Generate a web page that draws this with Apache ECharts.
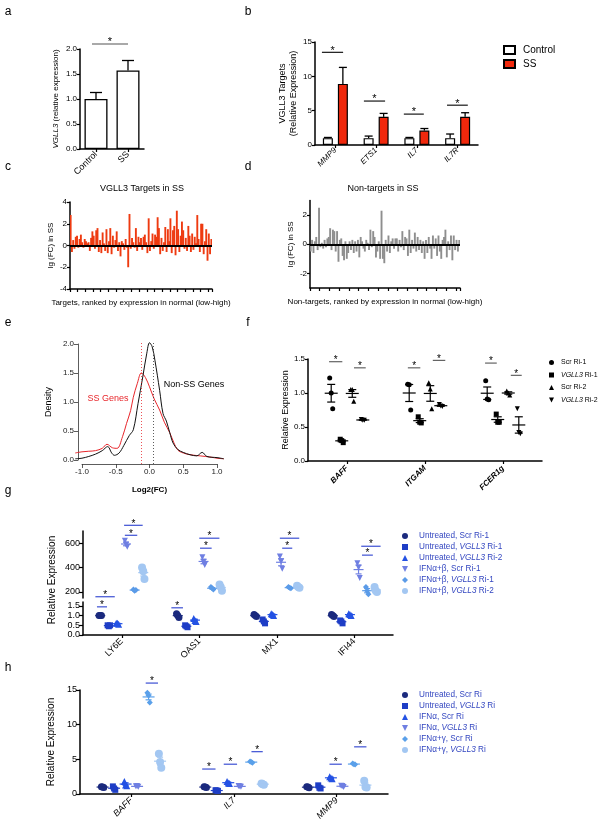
<!DOCTYPE html>
<html><head><meta charset="utf-8">
<script src="https://cdn.jsdelivr.net/npm/echarts@6/dist/echarts.min.js"></script>
<style>html,body{margin:0;padding:0;background:#fff}#c{width:602px;height:829px}</style>
</head><body><div id="c"></div>
<script>
// ---------------- DATA ----------------
// a
const aCategories = ['Control', 'SS'];
const aMeans = [1.0, 1.57];
const aErrors = [0.13, 0.2];
const aSig = [[0, -0.125, 1.0, 2.1]];
// b
const bCategories = ['MMP9', 'ETS1', 'IL7', 'IL7R'];
const bControl = [1.0, 1.0, 1.0, 1.0];
const bControlErr = [0.1, 0.3, 0.1, 0.6];
const bSS = [8.9, 4.1, 2.1, 4.1];
const bSSErr = [2.4, 0.5, 0.3, 0.6];
const bSig = [[0, -0.33, 0.19, 13.5], [1, -0.3, 0.22, 6.4], [2, -0.32, 0.17, 4.5], [3, -0.26, 0.25, 5.8]];
// c
const cValues = [2.8, -0.6, 0.5, -0.3, 0.8, 0.9, -0.2, 0.6, 1.0, 0.3, -0.2, 0.6, 0.4, 0.2, 0.3, -0.5, 0.7, 1.3, 0.9, -0.3,
  1.4, 1.6, -0.6, 0.5, -0.7, 1.2, 0.2, -0.5, 1.5, -0.7, 0.4, 1.6, -0.8, 0.9, -0.2, 0.5, 1.3, -0.5, 0.3, -1.0,
  0.4, 0.2, -0.4, 0.6, -0.2, -2.0, 2.9, -0.3, 0.7, 0.3, -0.2, 1.6, -0.5, 0.8, 0.3, 0.7, -0.4, 0.8, 1.0, 0.3,
  -0.7, 2.5, -0.5, 0.4, 1.1, -0.3, 1.0, 0.8, 2.6, 1.6, -0.8, 0.7, -0.5, 0.3, 1.7, -0.6, 1.5, 0.4, 2.5, -0.7,
  1.4, 1.8, -0.9, 3.2, 1.5, -0.6, 0.9, 2.2, 1.4, -0.3, 0.7, -0.5, 1.8, 0.9, -0.6, 1.1, -0.4, 0.8, 0.2, 2.8,
  0.6, -0.6, 2.0, 2.0, -0.8, 0.4, 1.5, -1.4, 1.1, -0.8, 0.6];
// d
const dValues = [-0.5, 0.3, -0.6, 0.2, 0.5, -0.4, 2.5, -0.2, 0.1, -0.3, 0.3, -0.2, 0.4, 0.5, 1.1, -0.4, 1.0, 0.9, -0.5, 0.9,
  -1.2, 0.3, 0.4, -0.8, -1.1, 0.2, -1.0, -0.6, 0.2, -0.4, 0.3, -0.6, 0.2, -0.5, 0.3, -0.9, 0.5, 0.2, -0.3, -0.5,
  0.3, 0.1, -0.4, 1.0, -0.2, 0.9, 0.5, -0.9, -0.5, 0.2, -1.0, 2.3, -1.0, -1.3, 0.3, -0.5, 0.6, -0.6, 0.2, 0.4,
  -0.3, 0.4, 0.4, -0.5, 0.3, -0.2, 0.9, -0.4, 0.5, 0.4, -0.8, 1.0, -0.6, 0.3, -0.3, 0.8, -0.5, 0.5, -0.4, 0.3,
  -0.6, 0.2, -1.0, 0.3, -0.6, 0.5, -0.3, -1.0, 0.6, -0.3, 0.4, -0.8, 0.6, -0.5, -1.0, 0.3, 0.5, 1.0, -0.9, 0.2,
  -0.4, 0.6, -1.1, 0.6, -0.4, 0.3, -0.5, 0.3];
// e
const eSSx = [-1.1, -1.0, -0.9, -0.8, -0.7, -0.63, -0.55, -0.48, -0.4, -0.34, -0.28, -0.24, -0.18, -0.12, -0.06, 0.0, 0.07, 0.15, 0.22, 0.3, 0.36, 0.42, 0.5, 0.6, 0.75, 0.9, 1.0, 1.1];
const eSSy = [0.12, 0.14, 0.15, 0.16, 0.2, 0.27, 0.21, 0.2, 0.4, 0.63, 0.85, 1.08, 1.32, 1.5, 1.42, 1.26, 1.05, 0.86, 0.65, 0.47, 0.3, 0.17, 0.12, 0.09, 0.07, 0.05, 0.03, 0.02];
const eNonx = [-1.1, -1.0, -0.9, -0.8, -0.7, -0.62, -0.56, -0.52, -0.45, -0.38, -0.3, -0.24, -0.17, -0.1, -0.04, 0.0, 0.04, 0.08, 0.15, 0.2, 0.25, 0.3, 0.35, 0.42, 0.5, 0.6, 0.7, 0.78, 0.85, 1.0, 1.1];
const eNony = [0.02, 0.03, 0.06, 0.1, 0.16, 0.23, 0.12, 0.08, 0.12, 0.25, 0.42, 0.52, 0.97, 1.43, 1.84, 2.02, 1.95, 1.72, 1.2, 0.8, 0.67, 0.47, 0.29, 0.18, 0.13, 0.09, 0.07, 0.13, 0.06, 0.04, 0.02];
const eMedianSS = -0.12;
const eMedianNon = 0.06;
// f
const fCategories = ['BAFF', 'ITGAM', 'FCER1g'];
const fScrRi1 = [[1.22, 1.0, 0.77], [1.13, 1.12, 0.75], [1.18, 0.91, 0.9]];
const fVgllRi1 = [[0.32, 0.3, 0.27], [0.65, 0.57, 0.56], [0.69, 0.57, 0.57]];
const fScrRi2 = [[1.05, 1.05, 0.88], [1.15, 1.06, 0.77], [1.03, 1.0, 0.97]];
const fVgllRi2 = [[0.61, 0.6, 0.6], [0.83, 0.81, 0.8], [0.77, 0.42, 0.4]];
const fSig = [[0, -0.23, -0.06, 1.46], [0, 0.09, 0.24, 1.37], [1, -0.22, -0.06, 1.37], [1, 0.1, 0.26, 1.48], [2, -0.23, -0.08, 1.44], [2, 0.1, 0.24, 1.26]];
// g
const gCategories = ['LY6E', 'OAS1', 'MX1', 'IFI44'];
const gUntScr1 = [[1.0, 1.0, 1.0], [1.1, 1.0, 0.9], [1.05, 1.0, 0.95], [1.05, 1.0, 0.95]];
const gUntV1 = [[0.5, 0.45, 0.5], [0.5, 0.45, 0.4], [0.8, 0.7, 0.6], [0.75, 0.7, 0.6]];
const gUntV2 = [[0.6, 0.6, 0.55], [0.85, 0.75, 0.7], [1.1, 1.05, 1.0], [1.1, 1.05, 1.0]];
const gIfnScr1 = [[620, 590, 570], [485, 445, 420], [490, 450, 390], [435, 400, 315]];
const gIfnV1 = [[220, 210, 215], [240, 230, 220], [240, 235, 230], [240, 210, 180]];
const gIfnV2 = [[400, 370, 305], [260, 240, 210], [250, 240, 235], [240, 210, 200]];
const gSigLower = [[0, -0.34, -0.09, 1.97], [0, -0.32, -0.19, 1.45], [1, -0.36, -0.21, 1.4]];
const gSigUpper = [[0, 0.03, 0.27, 747], [0, 0.04, 0.2, 665], [1, 0.0, 0.26, 641], [1, 0.01, 0.16, 559], [2, 0.04, 0.29, 641], [2, 0.07, 0.2, 559], [3, 0.09, 0.34, 575], [3, 0.1, 0.24, 502]];
const gUpperTicks = [200, 400, 600];
const gLowerTicks = [0, 0.5, 1.0, 1.5];
// h
const hCategories = ['BAFF', 'IL7', 'MMP9'];
const hUntScr = [[1.05, 1.0, 0.95], [1.05, 1.0, 0.95], [1.05, 1.0, 0.9]];
const hUntV = [[1.1, 0.8, 0.6], [0.55, 0.5, 0.45], [1.25, 0.9, 0.8]];
const hIfnScr = [[1.8, 1.3, 1.2], [1.8, 1.6, 1.5], [2.5, 2.3, 2.2]];
const hIfnV = [[1.1, 1.15, 1.05], [1.15, 1.1, 1.05], [1.2, 1.15, 1.0]];
const hIgScr = [[14.6, 14.2, 13.2], [4.7, 4.6, 4.5], [4.4, 4.3, 4.25]];
const hIgV = [[5.8, 4.6, 3.8], [1.5, 1.4, 1.35], [1.9, 1.0, 0.95]];
const hSig = [[0, 0.14, 0.26, 16.0], [1, -0.31, -0.18, 3.6], [1, -0.1, 0.03, 4.3], [1, 0.17, 0.28, 6.1], [2, -0.07, 0.05, 4.3], [2, 0.17, 0.29, 6.8]];

// ---------------- HELPERS ----------------
const FONT = "'Liberation Sans', Arial, Helvetica, sans-serif";
function isObj(o) { return o && typeof o === 'object' && !Array.isArray(o); }
function merge(a, b) {
  const out = Object.assign({}, a);
  for (const k in b) out[k] = (isObj(a[k]) && isObj(b[k])) ? merge(a[k], b[k]) : b[k];
  return out;
}
const AX = {
  axisLine: { show: true, onZero: false, lineStyle: { color: '#000', width: 1.5 } },
  axisTick: { show: true, length: 3, lineStyle: { color: '#000', width: 1.2 } },
  axisLabel: { fontSize: 8, color: '#000', fontFamily: FONT, margin: 3 },
  splitLine: { show: false },
  nameTextStyle: { fontSize: 9, color: '#000', fontFamily: FONT }
};
function ax(o) { return merge(AX, o); }
const HID = { show: false, splitLine: { show: false } };

function stats(r) {
  const m = r.reduce((s, v) => s + v, 0) / r.length;
  const sd = Math.sqrt(r.reduce((s, v) => s + (v - m) * (v - m), 0) / (r.length - 1));
  return [m, sd / Math.sqrt(r.length)];
}
function dotData(reps) { return reps.map((r, i) => { const s = stats(r); return [i, s[0], s[1], r[0], r[1], r[2]]; }); }

function shapeEl(shape, cx, cy, s, color) {
  const h = s / 2;
  const st = { fill: color };
  if (shape === 'circle') return { type: 'circle', shape: { cx, cy, r: h }, style: st };
  if (shape === 'rect') return { type: 'rect', shape: { x: cx - h, y: cy - h, width: s, height: s }, style: st };
  if (shape === 'triangle') return { type: 'polygon', shape: { points: [[cx, cy - h], [cx + h, cy + h], [cx - h, cy + h]] }, style: st };
  if (shape === 'down') return { type: 'polygon', shape: { points: [[cx - h, cy - h], [cx + h, cy - h], [cx, cy + h]] }, style: st };
  return { type: 'polygon', shape: { points: [[cx, cy - h], [cx + h, cy], [cx, cy + h], [cx - h, cy]] }, style: st };
}
function dotRender(slotCount, slotIdx, frac, shape, size, color, lineColor, meanHalf, capHalf, jitter) {
  return function (params, api) {
    const cat = api.value(0), mean = api.value(1), sem = api.value(2);
    const band = api.size([1, 0])[0];
    const c = api.coord([cat, mean]);
    const x = c[0] + (slotIdx - (slotCount - 1) / 2) * frac * band;
    const top = api.coord([cat, mean + sem])[1];
    const bot = api.coord([cat, mean - sem])[1];
    const ch = [];
    for (let k = 0; k < 3; k++) {
      const p = api.coord([cat, api.value(3 + k)]);
      ch.push(shapeEl(shape, x + (k - 1) * jitter, p[1], size, color));
    }
    const ls = { stroke: lineColor, lineWidth: 1.2 };
    ch.push({ type: 'line', shape: { x1: x - meanHalf, y1: c[1], x2: x + meanHalf, y2: c[1] }, style: ls });
    ch.push({ type: 'line', shape: { x1: x, y1: top, x2: x, y2: bot }, style: ls });
    ch.push({ type: 'line', shape: { x1: x - capHalf, y1: top, x2: x + capHalf, y2: top }, style: ls });
    ch.push({ type: 'line', shape: { x1: x - capHalf, y1: bot, x2: x + capHalf, y2: bot }, style: ls });
    return { type: 'group', children: ch };
  };
}
function errRender(frac, capHalf) {
  return function (params, api) {
    const cat = api.value(0), m = api.value(1), e = api.value(2);
    const band = api.size([1, 0])[0];
    const p0 = api.coord([cat, m]), p1 = api.coord([cat, m + e]);
    const x = p0[0] + frac * band;
    const st = { stroke: '#000', lineWidth: 1.3 };
    return { type: 'group', children: [
      { type: 'line', shape: { x1: x, y1: p0[1], x2: x, y2: p1[1] }, style: st },
      { type: 'line', shape: { x1: x - capHalf, y1: p1[1], x2: x + capHalf, y2: p1[1] }, style: st }] };
  };
}
function sigRender(lineColor, starSize) {
  return function (params, api) {
    const cat = api.value(0), f1 = api.value(1), f2 = api.value(2), y = api.value(3);
    const band = api.size([1, 0])[0];
    const p = api.coord([cat, y]);
    const x1 = p[0] + f1 * band, x2 = p[0] + f2 * band;
    return { type: 'group', children: [
      { type: 'line', shape: { x1, y1: p[1], x2, y2: p[1] }, style: { stroke: lineColor, lineWidth: 1.1 } },
      { type: 'text', style: { text: '*', x: (x1 + x2) / 2, y: p[1] + starSize * 0.35, align: 'center', verticalAlign: 'bottom', fill: '#000', font: starSize + 'px ' + FONT } }] };
  };
}
function txt(s, x, y, size, extra) {
  extra = extra || {};
  return { type: 'text', x, y, silent: true, rotation: extra.rotation || 0,
    style: { text: s, fill: extra.color || '#000', font: (extra.fontStyle || '') + ' ' + (extra.weight || '') + ' ' + size + 'px ' + FONT,
      align: extra.align || 'center', verticalAlign: 'middle', textAlign: extra.align || 'center', textVerticalAlign: 'middle' } };
}
const DOWN = 'path://M0,0L10,0L5,10Z';
const legendItalic = (size, color, pad) => ({
  formatter: (n) => n.replace(/VGLL3/g, '{i|VGLL3}'),
  textStyle: { fontSize: size, color: color, fontFamily: FONT, overflow: 'none', width: 200, padding: [0, 0, 0, pad],
    rich: { i: { fontStyle: 'italic', fontSize: size, color: color, fontFamily: FONT } } }
});

// ---------------- OPTION ----------------
const grids = [
  { left: 80, top: 49, width: 64, height: 100 },
  { left: 315, top: 42, width: 163, height: 103 },
  { left: 70, top: 202, width: 142, height: 87 },
  { left: 310, top: 200.5, width: 150, height: 87.5 },
  { left: 75.25, top: 341, width: 148.5, height: 123 },
  { left: 82, top: 463, width: 135, height: 1 },
  { left: 78, top: 344, width: 1, height: 116 },
  { left: 308, top: 359, width: 234, height: 102 },
  { left: 83, top: 531, width: 310, height: 67 },
  { left: 83, top: 602, width: 310, height: 33 },
  { left: 80, top: 690, width: 308, height: 104 }
].map(g => Object.assign({ outerBoundsMode: 'none', containLabel: false }, g));

const EAX = { axisLine: { lineStyle: { color: '#333', width: 0.8 } }, axisTick: { length: 4, lineStyle: { color: '#333', width: 0.8 } }, axisLabel: { color: '#222', margin: 4 } };

const xAxis = [
  ax({ gridIndex: 0, type: 'category', data: aCategories, axisLabel: { rotate: 45, fontSize: 9, margin: 4 }, axisTick: { alignWithLabel: true } }),
  ax({ gridIndex: 1, type: 'category', data: bCategories, axisLabel: { rotate: 45, fontStyle: 'italic', fontSize: 8, margin: 4 }, axisTick: { alignWithLabel: true } }),
  ax({ gridIndex: 2, type: 'category', data: cValues.map((_, i) => String(i + 1)), axisLabel: { show: false }, axisTick: { interval: 5, length: 3 },
    name: 'Targets, ranked by expression in normal (low-high)', nameLocation: 'middle', nameGap: 10, nameTextStyle: { fontSize: 8 } }),
  ax({ gridIndex: 3, type: 'category', data: dValues.map((_, i) => String(i + 1)), axisLabel: { show: false }, axisTick: { interval: 6, length: 3 },
    name: 'Non-targets, ranked by expression in normal (low-high)', nameLocation: 'middle', nameGap: 10, nameTextStyle: { fontSize: 8 } }),
  Object.assign({ gridIndex: 4, type: 'value', min: -1.1, max: 1.1 }, HID),
  ax(merge(EAX, { gridIndex: 5, type: 'value', min: -1, max: 1, interval: 0.5, axisLabel: { formatter: v => v.toFixed(1) },
    name: 'Log2(FC)', nameLocation: 'middle', nameGap: 22, nameTextStyle: { fontSize: 8, fontWeight: 'bold' } })),
  Object.assign({ gridIndex: 6, type: 'value', min: 0, max: 1 }, HID),
  ax({ gridIndex: 7, type: 'category', data: fCategories, axisLabel: { rotate: 45, fontStyle: 'italic', fontWeight: 'bold', fontSize: 8, margin: 6 }, axisTick: { alignWithLabel: true } }),
  Object.assign({ gridIndex: 8, type: 'category', data: gCategories }, HID),
  ax({ gridIndex: 9, type: 'category', data: gCategories, axisLabel: { rotate: 45, fontSize: 9, margin: 5 }, axisTick: { alignWithLabel: true } }),
  ax({ gridIndex: 10, type: 'category', data: hCategories, axisLabel: { rotate: 45, fontStyle: 'italic', fontSize: 9, margin: 5 }, axisTick: { alignWithLabel: true } })
];
const yAxis = [
  ax({ gridIndex: 0, type: 'value', min: 0, max: 2, interval: 0.5, axisLabel: { formatter: v => v.toFixed(1) },
    name: '{i|VGLL3} (relative expression)', nameLocation: 'middle', nameGap: 20,
    nameTextStyle: { fontSize: 8, rich: { i: { fontStyle: 'italic', fontSize: 8, color: '#000', fontFamily: FONT } } } }),
  ax({ gridIndex: 1, type: 'value', min: 0, max: 15, interval: 5,
    name: 'VGLL3 Targets\n(Relative Expression)', nameLocation: 'middle', nameGap: 14, nameTextStyle: { fontSize: 9, lineHeight: 11 } }),
  ax({ gridIndex: 2, type: 'value', min: -4, max: 4, interval: 2, name: 'lg (FC) in SS', nameLocation: 'middle', nameGap: 15, nameTextStyle: { fontSize: 8 } }),
  ax({ gridIndex: 3, type: 'value', min: -3, max: 3, axisTick: { customValues: [-2, 0, 2] }, axisLabel: { customValues: [-2, 0, 2] },
    name: 'lg (FC) in SS', nameLocation: 'middle', nameGap: 15, nameTextStyle: { fontSize: 8 } }),
  Object.assign({ gridIndex: 4, type: 'value', min: -0.07, max: 2.05 }, HID),
  Object.assign({ gridIndex: 5, type: 'value', min: 0, max: 1 }, HID),
  ax(merge(EAX, { gridIndex: 6, type: 'value', min: 0, max: 2, interval: 0.5, axisLabel: { formatter: v => v.toFixed(1) },
    name: 'Density', nameLocation: 'middle', nameGap: 25, nameTextStyle: { fontSize: 9 } })),
  ax({ gridIndex: 7, type: 'value', min: 0, max: 1.5, interval: 0.5, axisLabel: { formatter: v => v.toFixed(1) },
    name: 'Relative Expression', nameLocation: 'middle', nameGap: 17, nameTextStyle: { fontSize: 9 } }),
  ax({ gridIndex: 8, type: 'value', min: 150, max: 700, axisTick: { customValues: gUpperTicks, length: 4 }, axisLabel: { customValues: gUpperTicks, fontSize: 9 } }),
  ax({ gridIndex: 9, type: 'value', min: 0, max: 1.7, axisTick: { customValues: gLowerTicks, length: 4 }, axisLabel: { customValues: gLowerTicks, fontSize: 9, formatter: v => v.toFixed(1) } }),
  ax({ gridIndex: 10, type: 'value', min: 0, max: 15, interval: 5, axisTick: { length: 4 }, axisLabel: { fontSize: 9 },
    name: 'Relative Expression', nameLocation: 'middle', nameGap: 22, nameTextStyle: { fontSize: 10 } })
];

const series = [];
// a
series.push({ type: 'bar', name: 'a', xAxisIndex: 0, yAxisIndex: 0, data: aMeans, barWidth: 23, itemStyle: { color: '#fff', borderColor: '#000', borderWidth: 1.3 }, z: 2 });
series.push({ type: 'custom', name: 'aErr', xAxisIndex: 0, yAxisIndex: 0, data: aMeans.map((m, i) => [i, m, aErrors[i]]), renderItem: errRender(0, 6), z: 1 });
series.push({ type: 'custom', name: 'aSig', xAxisIndex: 0, yAxisIndex: 0, data: aSig, renderItem: sigRender('#555', 11), encode: { x: 0, y: 3 } });
// b
series.push({ type: 'bar', name: 'Control', xAxisIndex: 1, yAxisIndex: 1, data: bControl, barWidth: 10, barGap: '50%', itemStyle: { color: '#fff', borderColor: '#000', borderWidth: 1.2 }, z: 2 });
series.push({ type: 'bar', name: 'SS', xAxisIndex: 1, yAxisIndex: 1, data: bSS, barWidth: 10, barGap: '50%', itemStyle: { color: '#f0280c', borderColor: '#000', borderWidth: 1.2 }, z: 2 });
series.push({ type: 'custom', name: 'bErrC', xAxisIndex: 1, yAxisIndex: 1, data: bControl.map((m, i) => [i, m, bControlErr[i]]), renderItem: errRender(-0.184, 4), z: 1 });
series.push({ type: 'custom', name: 'bErrS', xAxisIndex: 1, yAxisIndex: 1, data: bSS.map((m, i) => [i, m, bSSErr[i]]), renderItem: errRender(0.184, 4), z: 1 });
series.push({ type: 'custom', name: 'bSig', xAxisIndex: 1, yAxisIndex: 1, data: bSig, renderItem: sigRender('#000', 11), encode: { x: 0, y: 3 } });
// c, d
const zeroLine = { symbol: 'none', silent: true, label: { show: false }, lineStyle: { color: '#000', width: 1.8, type: 'solid' }, data: [{ yAxis: 0 }] };
series.push({ type: 'bar', name: 'c', xAxisIndex: 2, yAxisIndex: 2, data: cValues, barWidth: 1.9, itemStyle: { color: '#ee3a10', borderWidth: 0 }, markLine: zeroLine });
series.push({ type: 'bar', name: 'd', xAxisIndex: 3, yAxisIndex: 3, data: dValues, barWidth: 1.9, itemStyle: { color: '#8e8e8e', borderWidth: 0 }, markLine: zeroLine });
// e
series.push({ type: 'line', name: 'SS Genes', xAxisIndex: 4, yAxisIndex: 4, data: eSSx.map((x, i) => [x, eSSy[i]]), smooth: 0.35, showSymbol: false,
  lineStyle: { color: '#e8262b', width: 1 }, markLine: { symbol: 'none', silent: true, label: { show: false }, lineStyle: { color: '#e8262b', width: 0.8, type: [1, 2] }, data: [{ xAxis: eMedianSS }] } });
series.push({ type: 'line', name: 'Non-SS Genes', xAxisIndex: 4, yAxisIndex: 4, data: eNonx.map((x, i) => [x, eNony[i]]), smooth: 0.35, showSymbol: false,
  lineStyle: { color: '#111', width: 1 }, markLine: { symbol: 'none', silent: true, label: { show: false }, lineStyle: { color: '#333', width: 0.8, type: [1, 2] }, data: [{ xAxis: eMedianNon }] } });
// f
const fSpecs = [['Scr Ri-1', fScrRi1, 'circle', 'circle'], ['VGLL3 Ri-1', fVgllRi1, 'rect', 'rect'], ['Scr Ri-2', fScrRi2, 'triangle', 'triangle'], ['VGLL3 Ri-2', fVgllRi2, 'down', DOWN]];
fSpecs.forEach((s, i) => series.push({ type: 'custom', name: s[0], xAxisIndex: 7, yAxisIndex: 7, data: dotData(s[1]), itemStyle: { color: '#000' },
  renderItem: dotRender(4, i, 0.135, s[2], 5, '#000', '#000', 6.5, 4, 1.5), encode: { x: 0, y: 1 } }));
series.push({ type: 'custom', name: 'fSig', xAxisIndex: 7, yAxisIndex: 7, data: fSig, renderItem: sigRender('#555', 10), encode: { x: 0, y: 3 } });
// g
const gSpecs = [
  ['Untreated, Scr Ri-1', gUntScr1, 'circle', 'circle', '#1b2a7e', 9, 7],
  ['Untreated, VGLL3 Ri-1', gUntV1, 'rect', 'rect', '#1e3ec6', 9, 6],
  ['Untreated, VGLL3 Ri-2', gUntV2, 'triangle', 'triangle', '#2452e4', 9, 7],
  ['IFNα+β, Scr Ri-1', gIfnScr1, 'down', DOWN, '#6f7fe2', 8, 6],
  ['IFNα+β, VGLL3 Ri-1', gIfnV1, 'diamond', 'diamond', '#5b9be8', 8, 6],
  ['IFNα+β, VGLL3 Ri-2', gIfnV2, 'circle', 'circle', '#a3c7f2', 8, 8]
];
gSpecs.forEach((s, i) => series.push({ type: 'custom', name: s[0], xAxisIndex: s[5], yAxisIndex: s[5], data: dotData(s[1]), itemStyle: { color: s[4] },
  renderItem: dotRender(6, i, 0.111, s[2], s[6], s[4], s[4], 5, 3, 1.2), encode: { x: 0, y: 1 } }));
series.push({ type: 'custom', name: 'gSigL', xAxisIndex: 9, yAxisIndex: 9, data: gSigLower, renderItem: sigRender('#2a3fcf', 10), encode: { x: 0, y: 3 } });
series.push({ type: 'custom', name: 'gSigU', xAxisIndex: 8, yAxisIndex: 8, data: gSigUpper, renderItem: sigRender('#2a3fcf', 10), encode: { x: 0, y: 3 } });
// h
const hSpecs = [
  ['Untreated, Scr Ri', hUntScr, 'circle', 'circle', '#1b2a7e', 7],
  ['Untreated, VGLL3 Ri', hUntV, 'rect', 'rect', '#1e3ec6', 6],
  ['IFNα, Scr Ri', hIfnScr, 'triangle', 'triangle', '#2452e4', 7],
  ['IFNα, VGLL3 Ri', hIfnV, 'down', DOWN, '#6f7fe2', 6],
  ['IFNα+γ, Scr Ri', hIgScr, 'diamond', 'diamond', '#5aa0ea', 6],
  ['IFNα+γ, VGLL3 Ri', hIgV, 'circle', 'circle', '#a3c7f2', 8]
];
hSpecs.forEach((s, i) => series.push({ type: 'custom', name: s[0], xAxisIndex: 10, yAxisIndex: 10, data: dotData(s[1]), itemStyle: { color: s[4] },
  renderItem: dotRender(6, i, 0.112, s[2], s[5], s[4], s[4], 6, 3, 1.2), encode: { x: 0, y: 1 } }));
series.push({ type: 'custom', name: 'hSig', xAxisIndex: 10, yAxisIndex: 10, data: hSig, renderItem: sigRender('#2a3fcf', 10), encode: { x: 0, y: 3 } });

const legend = [
  { data: [{ name: 'Control', icon: 'rect' }, { name: 'SS', icon: 'rect' }], left: 503, top: 45, orient: 'vertical', itemWidth: 11, itemHeight: 8, itemGap: 4, selectedMode: false, padding: 0,
    textStyle: { fontSize: 10, color: '#000', fontFamily: FONT, padding: [0, 0, 0, 3] } },
  Object.assign({ data: fSpecs.map(s => ({ name: s[0], icon: s[3] })), left: 549, top: 359, orient: 'vertical', itemWidth: 5, itemHeight: 5, itemGap: 5.5, selectedMode: false, padding: 0 }, legendItalic(7, '#000', 2)),
  Object.assign({ data: gSpecs.map(s => ({ name: s[0], icon: s[3] })), left: 402, top: 532, orient: 'vertical', itemWidth: 6, itemHeight: 6, itemGap: 3, selectedMode: false, padding: 0 }, legendItalic(8.2, '#3346c0', 6)),
  Object.assign({ data: hSpecs.map(s => ({ name: s[0], icon: s[3] })), left: 402, top: 691, orient: 'vertical', itemWidth: 6, itemHeight: 6, itemGap: 3, selectedMode: false, padding: 0 }, legendItalic(8.2, '#3346c0', 6))
];

const graphic = [
  txt('a', 8, 12, 12), txt('b', 248, 12, 12), txt('c', 8, 167, 12), txt('d', 248, 167, 12),
  txt('e', 8, 323, 12), txt('f', 248, 323, 12), txt('g', 8, 491, 12), txt('h', 8, 668, 12),
  txt('VGLL3 Targets in SS', 142, 189, 9), txt('Non-targets in SS', 383, 189, 9),
  txt('SS Genes', 108, 399, 9, { color: '#e8262b' }), txt('Non-SS Genes', 194, 385, 9),
  txt('Relative Expression', 52, 580, 10, { rotation: Math.PI / 2 })
];

const chart = echarts.init(document.getElementById('c'), null, { renderer: 'canvas', width: 602, height: 829 });
chart.setOption({ animation: false, backgroundColor: '#fff', textStyle: { fontFamily: FONT }, grid: grids, xAxis, yAxis, legend, graphic, series });
</script></body></html>
